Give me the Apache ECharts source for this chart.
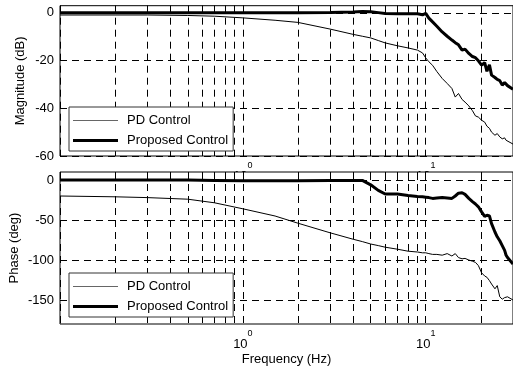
<!DOCTYPE html>
<html>
<head>
<meta charset="UTF-8">
<title>Bode</title>
<script src="https://cdn.jsdelivr.net/npm/echarts@6/dist/echarts.min.js"></script>
<style>html,body{margin:0;padding:0;background:#fff}</style>
</head>
<body>
<div id="bode" style="width:513px;height:370px;"></div>
<script type="text/javascript">
	var freq = [0.1, 0.2, 0.3, 0.5, 0.7, 1, 1.5, 2, 3, 4, 4.5, 5, 5.5, 6, 7, 8, 9, 9.6, 10, 10.4,
		10.9, 11.5, 12.3, 13.1, 13.9, 14.5, 15.1, 15.8, 16.4, 17.2, 18, 18.7, 19.4, 20.2, 21, 21.6,
		22.3, 22.9, 23.9, 24.6, 25.4, 26.2, 27, 27.5, 28, 30];
	var magPD = [-0.9, -0.9, -0.9, -1.1, -1.4, -2.1, -3.1, -4.0, -6.8, -9.0, -9.8, -10.5, -11.6, -12.6, -13.8, -14.7, -15.6, -16.8, -18.9, -20.5,
		-22.0, -24.6, -27.5, -29.6, -31.7, -35.3, -33.8, -36.3, -37.4, -39.0, -41.0, -43.2, -43.7, -45.0, -45.8, -47.5,
		-48.4, -50.0, -51.3, -50.6, -52.0, -52.8, -52.4, -53.4, -53.8, -55];
	var magProposed = [0, 0, 0, 0, 0, 0, 0, 0, 0.1, 0.4, 0.6, 0.5, 0.1, -0.3, -0.4, -0.4, -0.4, -0.8, -0.2, -2.2,
		-3.8, -5.6, -8.0, -9.8, -11.4, -12.5, -13.4, -15.6, -15.2, -17.0, -18.3, -18.8, -20.1, -21.9, -20.9, -24.5,
		-21.8, -26.1, -27.1, -27.9, -28.4, -30.3, -29.2, -30.0, -30.5, -32];
	var phasePD = [-20, -21, -22, -24, -28.5, -36, -45, -54, -66, -74, -77, -80, -82, -84, -86.5, -89, -90, -91, -91, -92,
		-93, -93, -94, -92, -95, -92, -97, -98.5, -98, -100, -101.5, -103, -107, -116, -120, -121.6,
		-125.8, -130, -136, -132, -146, -149, -147, -144.7, -146, -150];
	var phaseProposed = [0, 0, 0, 0, -0.5, -1, -1, -1, -0.5, -0.5, -0.5, -6, -13, -17.5, -17.5, -19.5, -20.5, -21, -21.5, -22,
		-23, -22.5, -22, -22.5, -23, -20, -16.5, -16, -18, -23, -27, -30, -33.5, -39.8, -45.5, -44,
		-45, -54.5, -65, -71, -76, -82, -88, -94, -97, -105];

	var freqTicks = [0.1, 0.2, 0.3, 0.4, 0.5, 0.6, 0.7, 0.8, 0.9, 1, 2, 3, 4, 5, 6, 7, 8, 9, 10, 20, 30];
	var freqLabels = [1, 10];
	var magTicks = [-60, -40, -20, 0];
	var phaseTicks = [-150, -100, -50, 0];

	var font = "'Liberation Sans', Arial, sans-serif";
	var dash = [7, 5];

	function pairs(ys) {
		return freq.map(function(f, i) { return [f, ys[i]]; });
	}

	function decadeLabel(v) {
		var e = Math.round(Math.log(v) / Math.LN10);
		return '{b|10}{s|' + e + '}';
	}

	function freqAxis(gi, pos, z) {
		var top = pos === 'top';
		return {
			type : 'log',
			logBase : 10,
			gridIndex : gi,
			position : pos,
			min : 0.1,
			max : 30,
			z : z,
			axisLine : { show : false },
			axisTick : { show : true, inside : true, length : 5, customValues : freqTicks,
				lineStyle : { color : '#000' } },
			minorTick : { show : false },
			splitLine : { show : !top, lineStyle : { color : '#000', type : dash, width : 1 } },
			axisLabel : {
				show : !top,
				customValues : freqLabels,
				margin : 5,
				formatter : decadeLabel,
				rich : {
					b : { fontSize : 13, fontFamily : font, color : '#000', lineHeight : 22, verticalAlign : 'bottom' },
					s : { fontSize : 9, fontFamily : font, color : '#000', lineHeight : 10, verticalAlign : 'top' }
				}
			}
		};
	}

	function valueAxis(gi, min, max, ticks, name, gap, z) {
		return {
			type : 'value',
			gridIndex : gi,
			min : min,
			max : max,
			z : z,
			name : name,
			nameLocation : 'middle',
			nameGap : gap,
			nameMoveOverlap : false,
			nameTextStyle : { fontSize : 13, fontFamily : font, color : '#000' },
			axisLine : { show : false },
			axisTick : { show : true, inside : true, length : 5, customValues : ticks,
				lineStyle : { color : '#000' } },
			splitLine : { show : true, lineStyle : { color : '#000', type : dash, width : 1 } },
			axisLabel : { customValues : ticks, margin : 6, fontSize : 13, fontFamily : font, color : '#000' }
		};
	}

	function legendBox(top) {
		return {
			orient : 'vertical',
			left : 69,
			top : top,
			itemWidth : 45,
			itemHeight : 14,
			itemGap : 7,
			padding : [ 7, 5, 4, 4 ],
			backgroundColor : '#fff',
			borderColor : '#333',
			borderWidth : 1,
			borderRadius : 0,
			symbolKeepAspect : true,
			textStyle : { fontSize : 13, fontFamily : font, color : '#000', padding : [ 0, 0, 0, 4 ] },
			data : [ {
				name : 'PD Control',
				icon : 'path://M0 0H45V1H0Z',
				itemStyle : { color : '#666' }
			}, {
				name : 'Proposed Control',
				icon : 'path://M0 0H45V3H0Z',
				itemStyle : { color : '#000' }
			} ]
		};
	}

	function curve(name, ys, xi, yi, w) {
		return {
			name : name,
			type : 'line',
			xAxisIndex : xi,
			yAxisIndex : yi,
			data : pairs(ys),
			symbol : 'none',
			clip : true,
			lineStyle : { color : '#000', width : w },
			itemStyle : { color : '#000' }
		};
	}

	var bodeChart = echarts.init(document.getElementById('bode'));
	bodeChart.setOption({
		animation : false,
		textStyle : { fontFamily : font },
		grid : [ {
			left : 60, top : 5.7, width : 460, height : 150.3,
			show : true, borderColor : '#000', borderWidth : 1, backgroundColor : '#fff', z : 0
		}, {
			left : 60, top : 172, width : 460, height : 152,
			show : true, borderColor : '#000', borderWidth : 1, backgroundColor : '#fff', z : 1
		} ],
		legend : [ legendBox(107), legendBox(273) ],
		xAxis : [
			freqAxis(0, 'bottom', 0),
			freqAxis(0, 'top', 0),
			Object.assign(freqAxis(1, 'bottom', 1), {
				name : 'Frequency (Hz)',
				nameLocation : 'middle',
				nameGap : 29,
				nameMoveOverlap : false,
				nameTextStyle : { fontSize : 13, fontFamily : font, color : '#000' }
			}),
			freqAxis(1, 'top', 1)
		],
		yAxis : [
			valueAxis(0, -60, 3, magTicks, 'Magnitude (dB)', 33, 0),
			valueAxis(1, -180, 10, phaseTicks, 'Phase (deg)', 39, 1)
		],
		series : [
			curve('PD Control', magPD, 0, 0, 1),
			curve('Proposed Control', magProposed, 0, 0, 3),
			curve('PD Control', phasePD, 2, 1, 1),
			curve('Proposed Control', phaseProposed, 2, 1, 3)
		]
	});
</script>
</body>
</html>
